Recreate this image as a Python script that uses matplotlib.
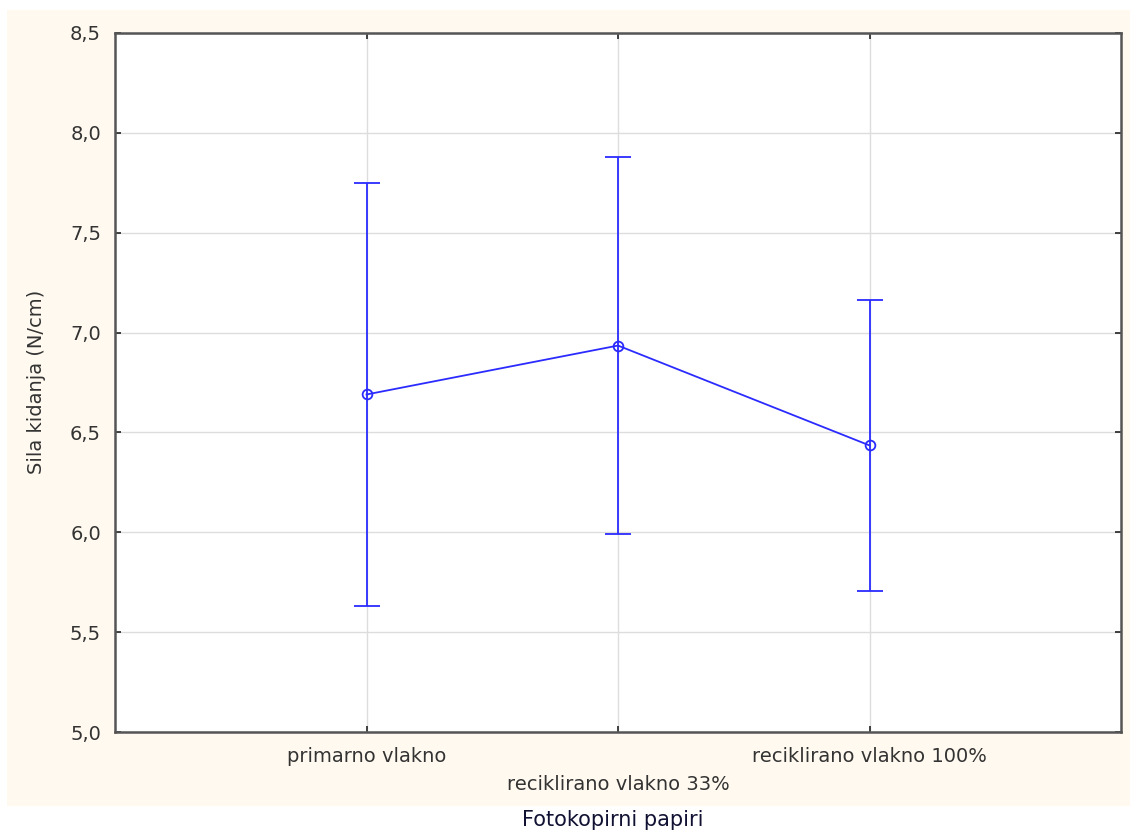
import matplotlib
matplotlib.use('Agg')
import matplotlib.pyplot as plt
from matplotlib.patches import Rectangle
from matplotlib.ticker import FuncFormatter

plt.rcParams['font.family'] = ['DejaVu Sans']

categories = ['primarno vlakno', 'reciklirano vlakno 33%', 'reciklirano vlakno 100%']
means = [6.69, 6.935, 6.435]
errors = [1.06, 0.945, 0.73]
yticks = [5.0, 5.5, 6.0, 6.5, 7.0, 7.5, 8.0, 8.5]

W, H = 1138, 833
fig = plt.figure(figsize=(W / 100, H / 100), dpi=100)
fig.patch.set_facecolor('white')

# cream frame behind the plot
bg = Rectangle((7 / W, 1 - 806 / H), (1130 - 7) / W, (806 - 10) / H,
               transform=fig.transFigure, facecolor='#FFF9EF',
               edgecolor='none', zorder=-10)
fig.add_artist(bg)

ax = fig.add_axes([115 / W, 1 - 732 / H, (1121 - 115) / W, (732 - 33) / H])
ax.set_facecolor('white')
ax.set_zorder(1)

x = list(range(1, len(categories) + 1))
ax.errorbar(x, means, yerr=errors, color='#2B2BFF', lw=1.3, capsize=9.5,
            capthick=1.3, marker='o', ms=7, mfc='none', mec='#2B2BFF',
            mew=1.3, zorder=3)

ax.set_xlim(0, 4)
ax.set_ylim(5.0, 8.5)
ax.set_yticks(yticks)
ax.yaxis.set_major_formatter(FuncFormatter(lambda v, p: f'{v:.1f}'.replace('.', ',')))
ax.set_xticks(x)
ax.set_xticklabels(categories)
for i, lbl in enumerate(ax.get_xticklabels()):
    if i % 2 == 1:
        lbl.set_y(-0.04)

ax.grid(True, color='#DDDDDD', lw=1.0, zorder=0)
ax.tick_params(direction='in', length=4, width=1.2, color='#222222',
               labelsize=14, labelcolor='#333333', top=True, right=True)
ax.tick_params(axis='x', pad=11)
ax.tick_params(axis='y', pad=10)
for s in ax.spines.values():
    s.set_color('#555555')
    s.set_linewidth(1.8)

fig.text(37 / W, 1 - 382 / H, 'Sila kidanja (N/cm)', rotation=90, ha='center',
         va='center', fontsize=14, color='#333333')
fig.text(613 / W, 1 - 820 / H, 'Fotokopirni papiri', ha='center', va='center',
         fontsize=15, color='#111133')

plt.savefig('out.png', dpi=100)
plt.close(fig)
